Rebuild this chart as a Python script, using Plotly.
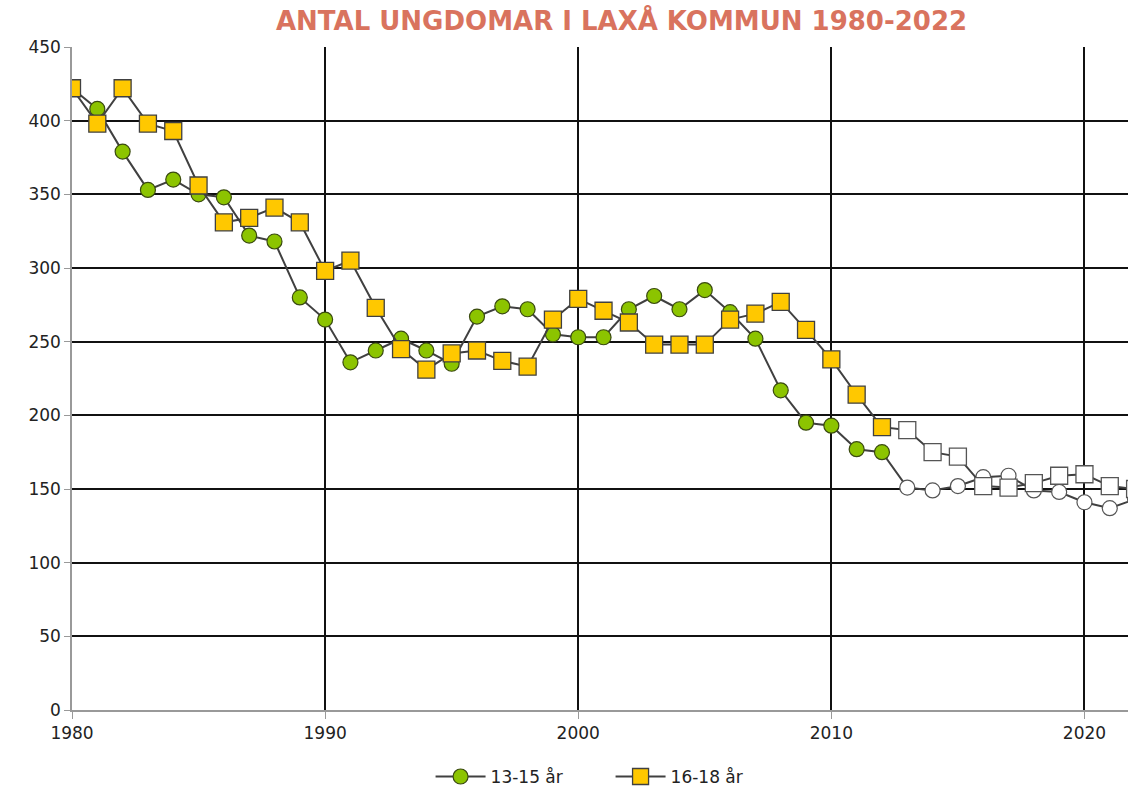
import plotly.graph_objects as go

years = list(range(1980, 2023))
age_13_15 = [422, 408, 379, 353, 360, 350, 348, 322, 318, 280,
             265, 236, 244, 252, 244, 235, 267, 274, 272, 255,
             253, 253, 272, 281, 272, 285, 270, 252, 217, 195,
             193, 177, 175, 151, 149, 152, 158, 159, 149, 148,
             141, 137, 143]
age_16_18 = [422, 398, 422, 398, 393, 356, 331, 334, 341, 331,
             298, 305, 273, 245, 231, 242, 244, 237, 233, 265,
             279, 271, 263, 248, 248, 248, 265, 269, 277, 258,
             238, 214, 192, 190, 175, 172, 152, 151, 154, 159,
             160, 152, 150]
last_actual = 2012
title = "ANTAL UNGDOMAR I LAXÅ KOMMUN 1980-2022"

def fills(color):
    return [color if y <= last_actual else "white" for y in years]

def lines(color):
    return [color if y <= last_actual else "#555555" for y in years]

fig = go.Figure()
fig.add_trace(go.Scatter(
    x=years, y=age_13_15, name="13-15 år", mode="lines+markers",
    line=dict(color="#404040", width=2),
    marker=dict(symbol="circle", size=15, color=fills("#8CC400"),
                line=dict(color=lines("#3a4a10"), width=1.2)),
))
fig.add_trace(go.Scatter(
    x=years, y=age_16_18, name="16-18 år", mode="lines+markers",
    line=dict(color="#404040", width=2),
    marker=dict(symbol="square", size=17, color=fills("#FFC800"),
                line=dict(color=lines("#404040"), width=1.3)),
))

fig.update_layout(
    width=1128, height=787,
    paper_bgcolor="white", plot_bgcolor="white",
    margin=dict(l=72, r=0, t=47, b=77, autoexpand=False),
    title=dict(text=title, x=0.551, xanchor="center", y=0.985, yanchor="top",
               font=dict(family="DejaVu Sans", size=26, color="#D9735E", weight="bold")),
    showlegend=True,
    legend=dict(orientation="h", x=0.51, xanchor="center", y=-0.101, yanchor="middle",
                font=dict(family="DejaVu Sans", size=17, color="#222222"),
                itemwidth=50, entrywidth=115, traceorder="normal"),
    font=dict(family="DejaVu Sans", size=17, color="#222222"),
)
fig.update_xaxes(
    range=[1980, 2021.72], tickmode="array", tickvals=[1980, 1990, 2000, 2010, 2020],
    showgrid=True, gridcolor="#111111", gridwidth=1.5,
    showline=True, linecolor="#999999", linewidth=1.5,
    ticks="outside", ticklen=7, tickcolor="#999999", zeroline=False,
)
fig.update_yaxes(
    range=[0, 450], tickmode="array", tickvals=list(range(0, 451, 50)),
    showgrid=True, gridcolor="#111111", gridwidth=1.5,
    showline=True, linecolor="#999999", linewidth=1.5,
    ticks="outside", ticklen=6, tickcolor="#999999", zeroline=False,
)
fig.write_html("out.html", config={"displayModeBar": False},
               post_script="document.body.style.margin='0';document.body.style.overflow='hidden';")
